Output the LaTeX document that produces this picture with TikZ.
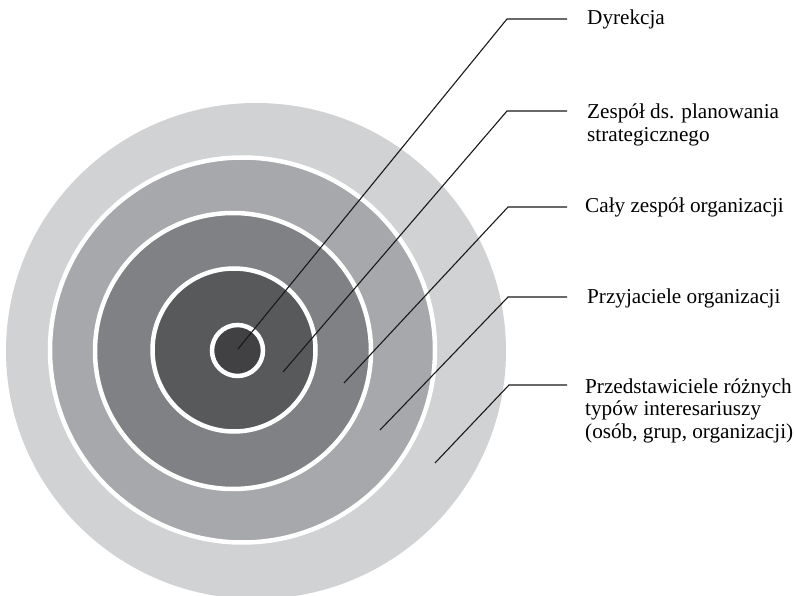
\documentclass[tikz,border=0pt]{standalone}
\usepackage{fontspec}
\setmainfont{Liberation Serif}
\usepackage{tikz}
\usetikzlibrary{calc}

\definecolor{ringOuter}{RGB}{209,210,212}
\definecolor{ringFour}{RGB}{167,168,171}
\definecolor{ringThree}{RGB}{128,129,132}
\definecolor{ringTwo}{RGB}{88,89,91}
\definecolor{ringCore}{RGB}{65,64,66}

\begin{document}
\begin{tikzpicture}[
        x=1pt, y=-1pt,
        font=\fontsize{21.2}{22.5}\selectfont,
        ring/.style={draw=white, line width=4.5pt},
        pointer/.style={black!90, line width=1.1pt, line join=miter},
        caption/.style={anchor=base west, inner sep=0pt, align=left}
    ]
        \useasboundingbox (0,0) rectangle (796,596);
        \clip (0,0) rectangle (796,596);

        % --- Pierscienie (od zewnatrz do srodka) ---
        \fill[ringOuter] (256,351) ellipse (250 and 248);
        \filldraw[ring, fill=ringFour] (242.5,350) circle (192.5);
        \filldraw[ring, fill=ringThree] (233,351) circle (138);
        \filldraw[ring, fill=ringTwo] (234,350) circle (81.5);
        \filldraw[ring, fill=ringCore] (237.5,350.5) circle (25.5);

        % --- Punkty w pierscieniach ---
        \coordinate (pDyr) at (238,349);
        \coordinate (pZesp) at (283,372);
        \coordinate (pCaly) at (344,383);
        \coordinate (pPrzy) at (380,430);
        \coordinate (pInt) at (435,463);

        % --- Zalamania linii i ich konce ---
        \coordinate (kDyr) at (507,19);
        \coordinate (kZesp) at (507,111);
        \coordinate (kCaly) at (508,207);
        \coordinate (kPrzy) at (508,297);
        \coordinate (kInt) at (509,385);
        \coordinate (eDyr) at (567,19);
        \coordinate (eZesp) at (567,111);
        \coordinate (eCaly) at (567,207);
        \coordinate (ePrzy) at (567,297);
        \coordinate (eInt) at (567,385);

        % --- Podpisy (base = ostatnia linia tekstu) ---
        \node[caption] (lDyr) at (587,25) {Dyrekcja};
        \node[caption] (lZesp) at (587,141.5) {Zespół ds. planowania\\strategicznego};
        \node[caption] (lCaly) at (585,213) {Cały zespół organizacji};
        \node[caption] (lPrzy) at (587,304) {Przyjaciele organizacji};
        \node[caption] (lInt) at (585,438) {Przedstawiciele różnych\\typów interesariuszy\\(osób, grup, organizacji)};

        % --- Linie odniesienia ---
        \draw[pointer] (pDyr) -- (kDyr) -- (eDyr);
        \draw[pointer] (pZesp) -- (kZesp) -- (eZesp);
        \draw[pointer] (pCaly) -- (kCaly) -- (eCaly);
        \draw[pointer] (pPrzy) -- (kPrzy) -- (ePrzy);
        \draw[pointer] (pInt) -- (kInt) -- (eInt);
    \end{tikzpicture}
\end{document}
